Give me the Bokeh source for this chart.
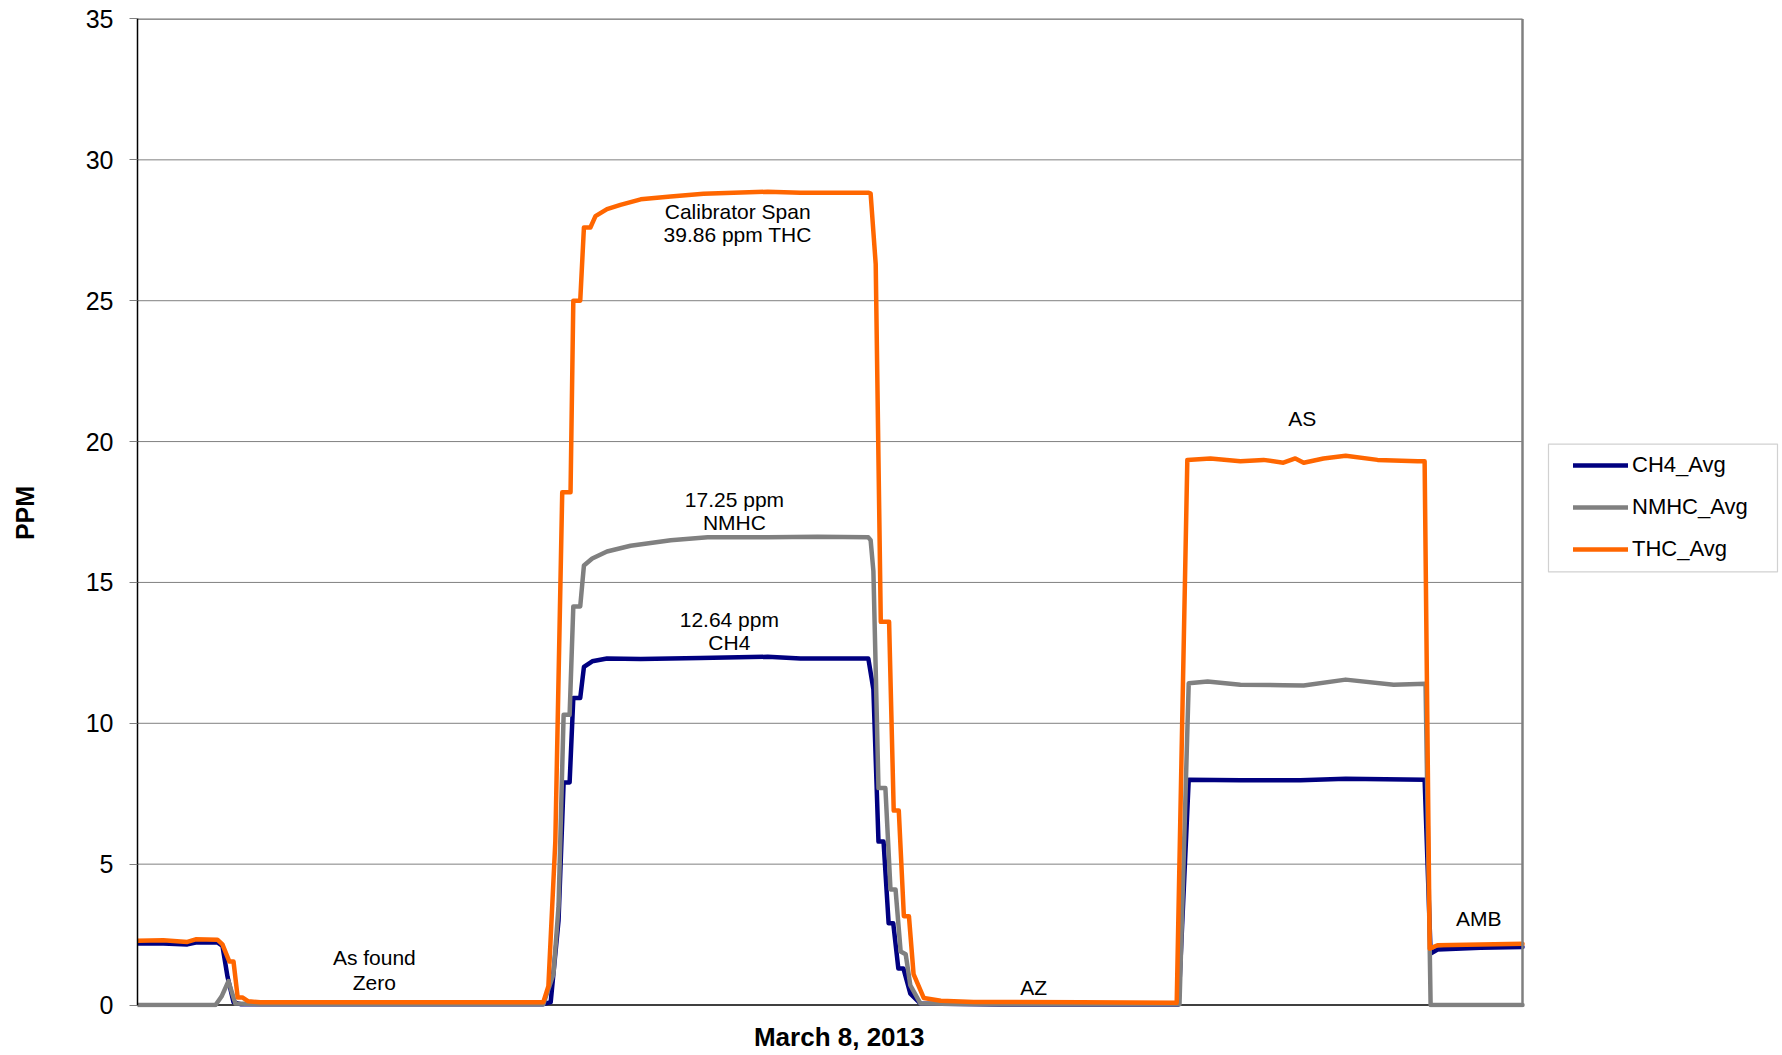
from bokeh.plotting import figure
from bokeh.models import (LinearAxis, FixedTicker, Range1d, Legend, LegendItem,
                          BoxAnnotation, ColumnDataSource)
from bokeh.core.properties import value
from bokeh.embed import file_html
from bokeh.resources import INLINE

FONT = "Liberation Sans"

# ---- data (x: elapsed time, arbitrary units across the day; y: PPM) ----
ch4_t = [0, 5.6, 10.8, 12.6, 17.3, 18.4, 19.5, 20.8, 22.3, 87.9, 89.5, 91.2, 92.3, 93.6,
         94.4, 95.9, 96.7, 98.5, 101.7, 109.0, 121.9, 136.5, 143.6, 158.3, 159.4, 160.5,
         161.6, 162.7, 163.7, 164.8, 165.9, 167.4, 169.6, 186.9, 225.5, 227.7, 238.9,
         251.9, 261.7, 278.8, 280.1, 281.6, 290.9, 300]
ch4_v = [2.18, 2.18, 2.15, 2.22, 2.22, 2.1, 1.0, 0.1, 0.03, 0.03, 0.1, 3.0, 7.9, 7.9,
         10.9, 10.9, 12.0, 12.2, 12.3, 12.28, 12.32, 12.36, 12.3, 12.3, 11.2, 5.8,
         5.8, 2.9, 2.9, 1.3, 1.3, 0.4, 0.05, 0.02, 0.02, 8.0, 7.98,
         7.98, 8.03, 8.0, 1.83, 1.97, 2.03, 2.06]

nmhc_t = [0, 16.9, 18.2, 19.7, 21.2, 26.6, 87.9, 90.1, 91.2, 92.3, 93.6, 94.4, 95.9,
          96.7, 98.5, 101.7, 106.8, 115.5, 123.5, 136.5, 147.3, 158.3, 158.8, 159.4,
          160.5, 162.0, 163.1, 164.2, 165.3, 166.4, 167.4, 169.6, 186.9, 225.7, 227.7,
          231.8, 238.9, 248.2, 252.6, 261.7, 272.1, 279.0, 280.1, 300]
nmhc_v = [0.0, 0.0, 0.3, 0.85, 0.05, 0.03, 0.03, 1.1, 3.5, 10.3, 10.3, 14.15, 14.15,
          15.6, 15.85, 16.1, 16.3, 16.5, 16.6, 16.6, 16.62, 16.6, 16.5, 15.4,
          7.7, 7.7, 4.1, 4.1, 1.9, 1.8, 0.7, 0.05, 0.03, 0.03, 11.42,
          11.48, 11.37, 11.35, 11.34, 11.55, 11.37, 11.4, 0.0, 0.0]

thc_t = [0, 5.6, 10.8, 12.6, 17.3, 18.4, 19.9, 20.8, 21.7, 22.7, 24.0, 26.6, 57.0, 87.9,
         89.0, 90.5, 92.0, 93.8, 94.4, 95.9, 96.7, 98.1, 99.2, 101.7, 104.6, 109.0,
         115.5, 122.6, 129.1, 136.5, 143.6, 150.8, 158.4, 158.8, 159.9, 161.0, 162.8,
         163.8, 164.9, 166.0, 167.1, 168.1, 170.3, 174.0, 181.1, 204.3, 225.1, 227.4,
         232.4, 238.9, 243.9, 248.2, 250.8, 252.6, 256.9, 261.7, 268.6, 277.3, 278.8,
         279.9, 281.6, 290.9, 300]
thc_v = [2.28, 2.30, 2.24, 2.33, 2.32, 2.15, 1.54, 1.54, 0.27, 0.27, 0.13, 0.10, 0.10, 0.10,
         0.67, 5.8, 18.2, 18.2, 25.0, 25.0, 27.6, 27.6, 28.0, 28.25, 28.4, 28.6,
         28.7, 28.8, 28.83, 28.87, 28.83, 28.83, 28.83, 28.8, 26.3, 13.6, 13.6,
         6.9, 6.9, 3.15, 3.15, 1.1, 0.25, 0.15, 0.11, 0.10, 0.08, 19.35,
         19.4, 19.3, 19.35, 19.25, 19.4, 19.25, 19.4, 19.5, 19.35, 19.3, 19.3,
         2.0, 2.12, 2.15, 2.17]

series_names = ["CH4_Avg", "NMHC_Avg", "THC_Avg"]
series_colors = ["#000080", "#808080", "#FF6600"]

x_span = [0, 300]          # time extent of the plot area
y_ticks = [0, 5, 10, 15, 20, 25, 30, 35]

ann_text = ["Calibrator Span", "39.86 ppm THC", "17.25 ppm", "NMHC", "12.64 ppm", "CH4",
            "AS", "As found", "Zero", "AZ", "AMB"]
ann_t = [130.0, 130.0, 129.3, 129.3, 128.2, 128.2, 252.3, 51.3, 51.3, 194.1, 290.5]
ann_v = [28.15, 27.36, 17.93, 17.11, 13.67, 12.85, 20.83, 1.68, 0.80, 0.62, 3.07]

x_title = "March 8, 2013"
x_title_t = 152
y_title = "PPM"

# ---- layout geometry (pixels on the canvas) ----
W, H = 1780, 1054
PA_L, PA_R = 137, 1522        # plot-area left/right
PA_T, PA_B = 18.5, 1005.5     # plot-area top/bottom (y = 35 / y = 0), on pixel centres
FT, FB = 18, 1008             # frame top/bottom
xs = (PA_R - PA_L) / (x_span[1] - x_span[0])
ys = (PA_B - PA_T) / (y_ticks[-1] - y_ticks[0])

def tx(px):
    return x_span[0] + (px - PA_L) / xs

def ty(py):
    return (PA_B - py) / ys

p = figure(width=W, height=H, output_backend="svg", toolbar_location=None,
           x_range=Range1d(x_span[0], tx(W)), y_range=Range1d(ty(FB), ty(FT)),
           min_border_left=PA_L, min_border_right=0, min_border_top=FT,
           min_border_bottom=H - FB,
           x_axis_location=None, y_axis_location=None)
p.outline_line_color = None
p.background_fill_color = "white"
p.border_fill_color = "white"
p.xgrid.visible = False
p.ygrid.visible = False

# left axis
yax = LinearAxis(ticker=FixedTicker(ticks=y_ticks), bounds=(y_ticks[0], y_ticks[-1]))
yax.axis_line_color = "black"
yax.axis_line_width = 1.5
yax.major_tick_line_color = "#808080"
yax.major_tick_out = 8
yax.major_tick_in = 0
yax.minor_tick_line_color = None
yax.major_label_text_font = FONT
yax.major_label_text_font_size = "25px"
yax.major_label_text_color = "black"
yax.major_label_standoff = 16
yax.axis_label = y_title
yax.axis_label_text_font = FONT
yax.axis_label_text_font_size = "25px"
yax.axis_label_text_font_style = "bold"
yax.axis_label_text_color = "black"
yax.axis_label_standoff = 44
p.add_layout(yax, "left")

# bottom axis: carries only the date title as its single label
xax = LinearAxis(ticker=FixedTicker(ticks=[x_title_t]), bounds=(x_span[0], x_span[1]))
xax.major_label_overrides = {x_title_t: x_title}
xax.axis_line_color = None
xax.major_tick_line_color = None
xax.minor_tick_line_color = None
xax.major_tick_out = 0
xax.major_tick_in = 0
xax.major_label_standoff = 14
xax.major_label_text_font = FONT
xax.major_label_text_font_size = "26px"
xax.major_label_text_font_style = "bold"
xax.major_label_text_color = "black"
p.add_layout(xax, "below")

# horizontal grid lines (within plot area)
gy = y_ticks[1:]
p.segment(x0=[x_span[0]] * len(gy), x1=[x_span[1]] * len(gy), y0=gy, y1=gy,
          line_color="#808080", line_width=1)
p.segment(x0=[x_span[0]], x1=[x_span[1]], y0=[y_ticks[-1]], y1=[y_ticks[-1]],
          line_color="#808080", line_width=1.5)
# x axis line at y = 0
p.segment(x0=[x_span[0]], x1=[x_span[1]], y0=[0], y1=[0], line_color="black", line_width=1.5)

# series
renderers = []
for t, v, c in [(ch4_t, ch4_v, series_colors[0]),
                (nmhc_t, nmhc_v, series_colors[1]),
                (thc_t, thc_v, series_colors[2])]:
    r = p.line(t, v, line_color=c, line_width=4.5, line_join="round", line_cap="round")
    renderers.append(r)

# right border of plot area
p.segment(x0=[x_span[1]], x1=[x_span[1]], y0=[0], y1=[y_ticks[-1]],
          line_color="#808080", line_width=2.5)

# annotations
src = ColumnDataSource(dict(x=ann_t, y=ann_v, text=ann_text))
p.text(x="x", y="y", text="text", source=src, text_font=value(FONT),
       text_font_size="21px", text_color="black", text_align="center",
       text_baseline="middle")

# legend box + legend
p.add_layout(BoxAnnotation(left=tx(1548), right=tx(1777), top=ty(444), bottom=ty(572),
                           fill_color="white", fill_alpha=1.0,
                           line_color="#666666", line_width=1.2, level="annotation"))

legend = Legend(items=[LegendItem(label=n, renderers=[r]) for n, r in zip(series_names, renderers)],
                location=(1573 - PA_L, FB - 571), padding=0, spacing=0, margin=0,
                glyph_width=55, glyph_height=42, label_height=42, label_standoff=4,
                label_text_font=FONT, label_text_font_size="22px", label_text_color="black",
                border_line_color=None, background_fill_alpha=0)
p.add_layout(legend, "center")

open("out.html", "w").write(file_html(p, INLINE))
